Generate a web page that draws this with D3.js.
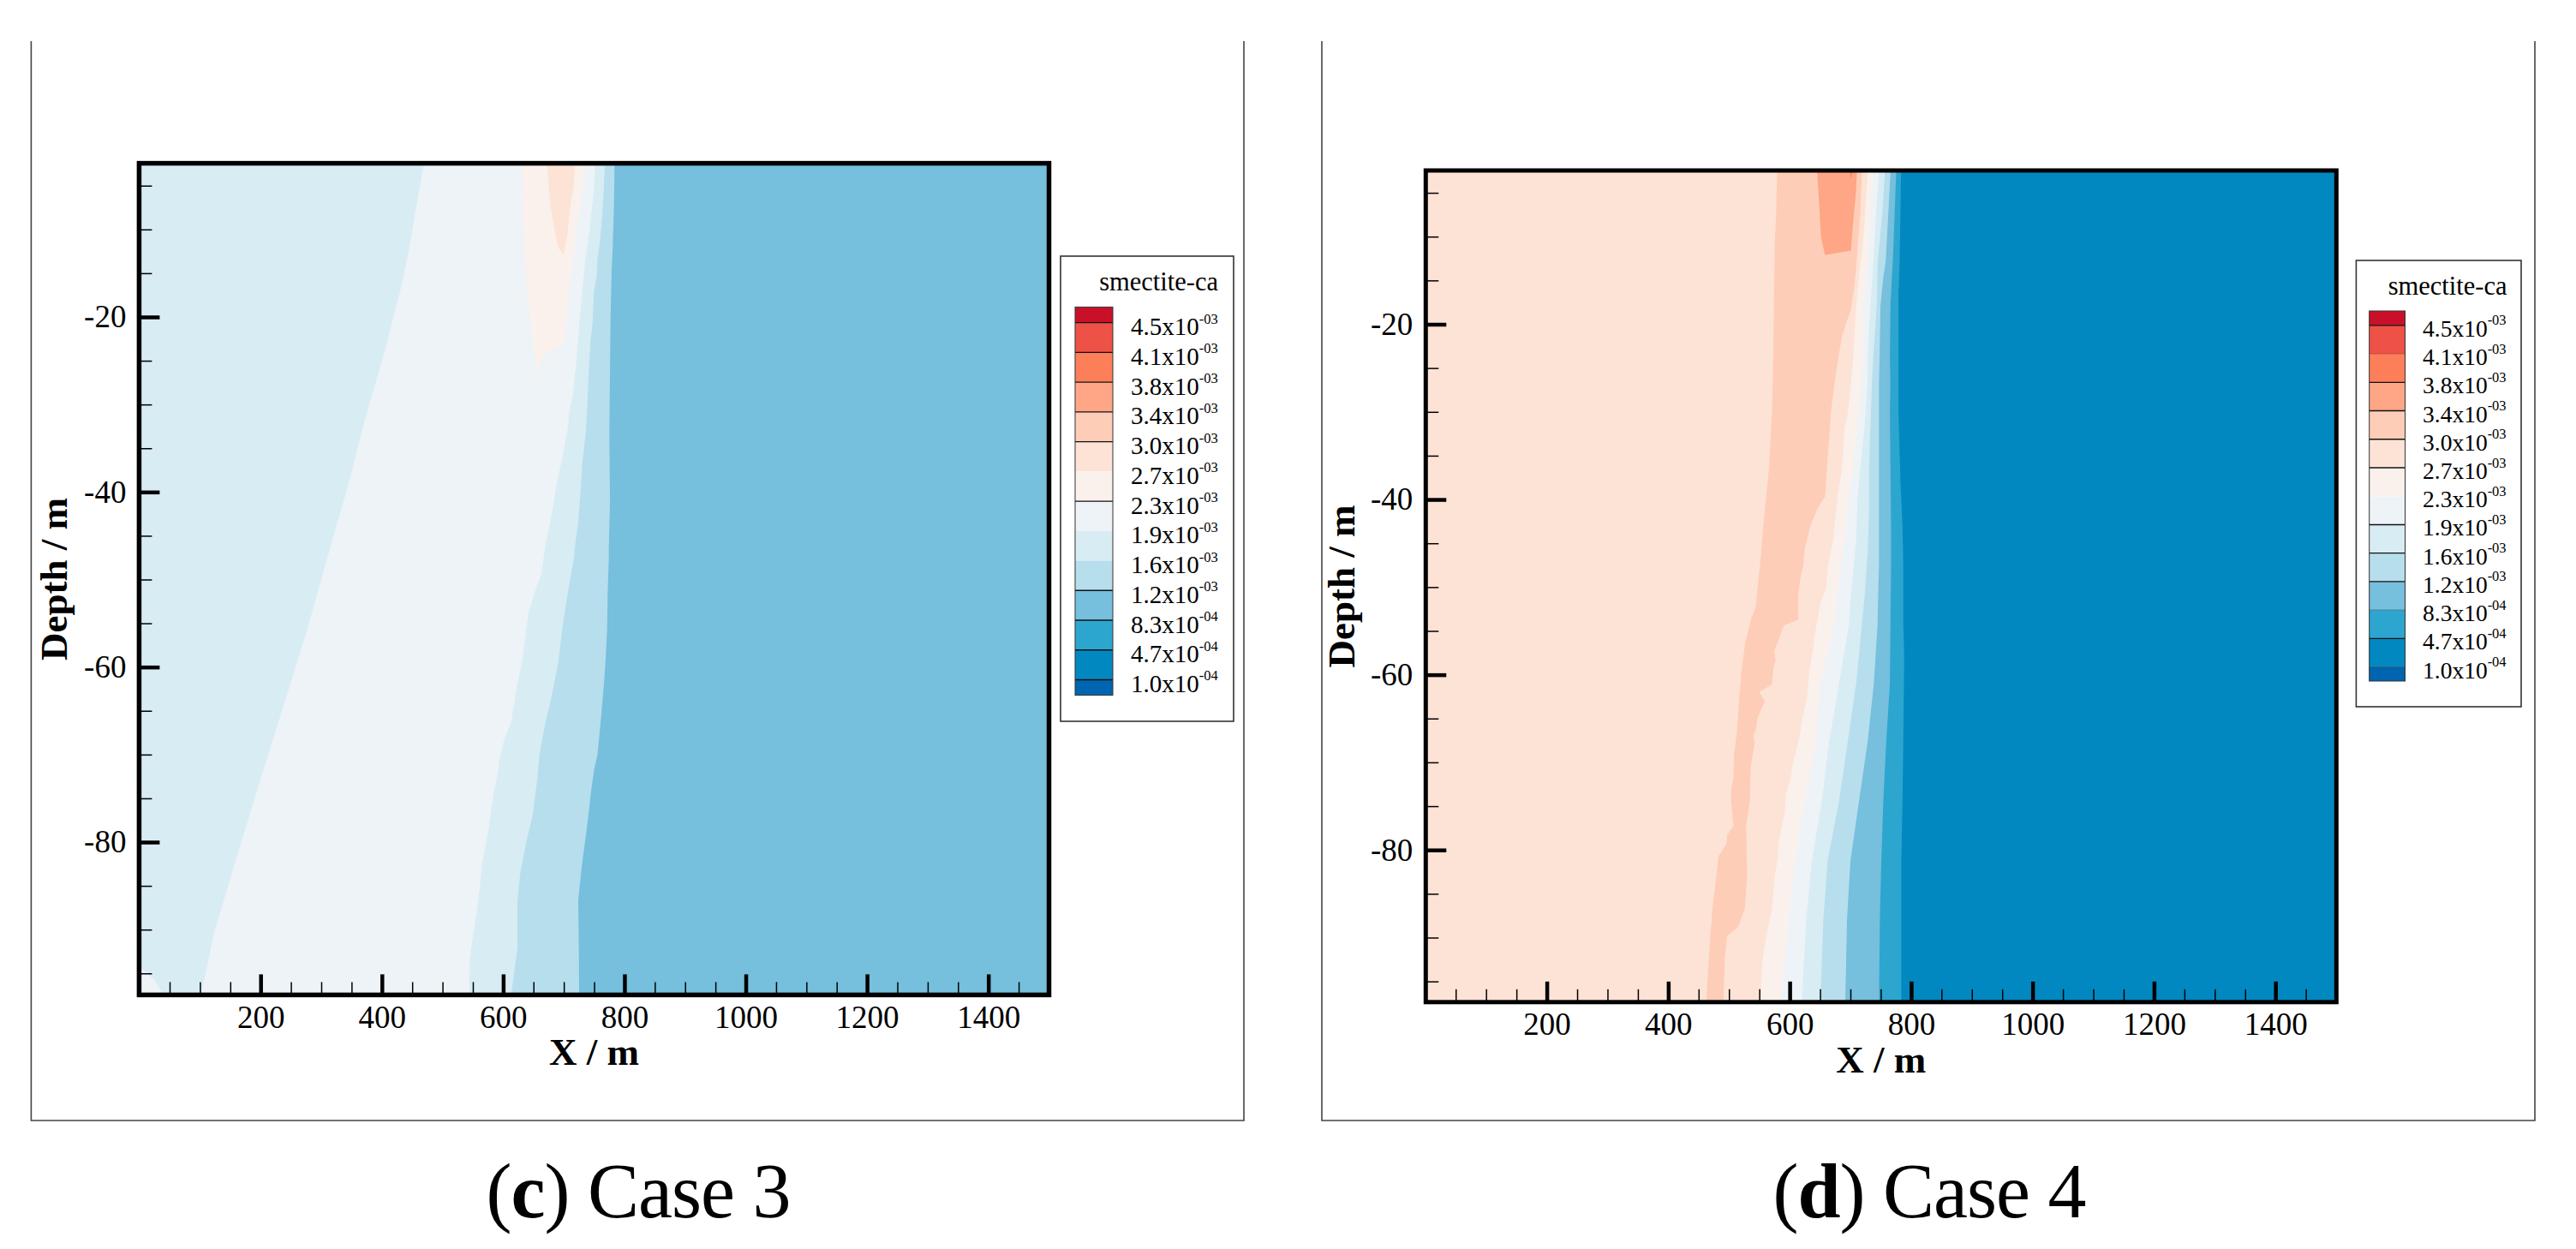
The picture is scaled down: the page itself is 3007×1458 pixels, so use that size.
<!DOCTYPE html>
<html>
<head>
<meta charset="utf-8">
<script src="https://cdnjs.cloudflare.com/ajax/libs/d3/7.8.5/d3.min.js"></script>
<style>
  body { margin: 0; background: #fff; }
  text { font-family: "Liberation Serif", serif; fill: #000; }
</style>
</head>
<body>
<div id="chart"></div>
<script>
// legend levels, top to bottom
var levelMant = ["4.5", "4.1", "3.8", "3.4", "3.0", "2.7", "2.3", "1.9", "1.6", "1.2", "8.3", "4.7", "1.0"];
var levelExp = ["-03", "-03", "-03", "-03", "-03", "-03", "-03", "-03", "-03", "-03", "-04", "-04", "-04"];
var levelColors = ["#ca1029", "#ee5247", "#fd7f59", "#fea685", "#fecdb7", "#fde3d6", "#faf1ec",
  "#edf3f7", "#d8ecf3", "#b7deed", "#76bfdd", "#2ca6cf", "#0288c1", "#0065b0"];
var c3LegendLines = [1, 1, 1, 1, 1, 0, 1, 0, 0, 1, 1, 1, 1];
var c4LegendLines = [1, 0.2, 1, 1, 1, 1, 0, 1, 1, 1, 0.3, 1, 0.3];

var xMajor = [200, 400, 600, 800, 1000, 1200, 1400];
var yMajor = [-20, -40, -60, -80];
var xMinor = d3.range(50, 1500, 50).filter(function (d) { return d % 200 !== 0; });
var yMinor = d3.range(-5, -97, -5).filter(function (d) { return d % 20 !== 0; });

// Case 3 contour edges, [x, depth]
var c3EdgeA = [[469, -2.6], [459, -6.5], [443, -12.9], [432, -16.5], [405, -23.8], [371, -32], [344, -39.3],
  [310, -47.5], [277, -55.7], [236, -64.8], [195, -73.9], [155, -83], [124, -90.2], [102, -97.3]];
var c3EdgeB = [[752, -2.8], [748.8, -6], [742.7, -9.9], [735.6, -13.5], [730.9, -16.8], [725.2, -21], [720.5, -25.3],
  [716.8, -27.6], [714.4, -29.2], [709.7, -30.5], [706.4, -32.8], [697.9, -36], [688.5, -39], [680, -42.6], [669.7, -46.1],
  [662.6, -49.5], [653.2, -51.2], [641.4, -54], [632, -59.1], [622.6, -62.2], [613.2, -66.3], [601.4, -68.4], [593.4, -70.8],
  [592, -71.8], [584, -74.6], [575.5, -78.7], [565.1, -82.5], [559, -86.9], [549.6, -91], [544.9, -93.4], [544, -97.4]];
var c3EdgeC = [[767.6, -2.8], [764.8, -7], [760, -11.2], [755.4, -13.5], [754.4, -15.2], [749.7, -17.1], [747.4, -20.7],
  [744.1, -22.7], [741.2, -26.2], [738.9, -29.8], [736.5, -33.1], [730.9, -36.4], [726.2, -41.2], [723.8, -43.5], [719.1, -45.8],
  [716.8, -47.5], [707.3, -51.2], [697.9, -55.3], [690.9, -59.5], [679.1, -63.6], [669.7, -66.3], [660.3, -69.8], [655.5, -73.2],
  [648.5, -77], [639, -79.7], [628.2, -83.5], [623.5, -86.9], [623.5, -92.1], [613.2, -97.4]];
var c3EdgeD = [[783.6, -2.8], [782.7, -7.3], [780.3, -12.6], [778.9, -14.5], [777, -20.1], [776.1, -26.6], [775.1, -33.1],
  [776.1, -41.3], [774.2, -46.2], [774.2, -47.5], [772.3, -51.6], [771.4, -55.7], [768.6, -59.5], [766.2, -61.9], [762, -65.3],
  [758.2, -68.1], [755.4, -70.1], [749.7, -71.8], [745, -74.2], [739.4, -77.6], [734.7, -80.1], [729.5, -82.8], [723.8, -86.6],
  [724.8, -92.1], [725.2, -97.4]];
var c3LobeOuter = [[632, -2.5], [633, -10.3], [639, -16.8], [648.5, -23], [658, -26.6], [662.6, -25], [672, -24.1], [686, -23.6],
  [700.3, -23.2], [702.6, -21.4], [708.3, -17.4], [715.3, -13.5], [721.5, -9.6], [728.5, -6.4], [736.5, -2.5]];
var c3LobeInner = [[672, -2.5], [678, -7.3], [686, -10.6], [691, -12.1], [700, -12.9], [706.4, -10.3], [709.7, -8], [716.8, -4.7],
  [718.2, -2.5]];
var c3Corner = [[0, -94.4], [6, -94.6], [24.5, -95.7], [40, -97.5], [0, -97.5]];

// Case 4 contour edges, [x, depth]
var c4Edge1 = [[579.2, -2.8], [577.8, -7.1], [575.5, -10.4], [574, -16.9], [573.1, -23.4], [570.8, -29.9], [566, -36.4], [556.6, -43],
  [551, -47.5], [544, -52.2], [535.5, -53.9], [527, -56.3], [521.4, -59], [516.7, -62.7], [512.9, -66.7], [508.2, -69.1], [507.3, -71.8],
  [503.5, -73.1], [503.5, -74.4], [507.3, -77.3], [496.9, -78.3], [496, -79.3], [482.8, -80.7], [477.6, -83.9], [473.4, -86.2],
  [469.6, -89.6], [467.3, -91.9], [462.6, -97.3]];
var c4Edge2 = [[718.9, -2.8], [716.5, -7.1], [711.8, -11.4], [709.5, -13.6], [705.7, -16.2], [700.1, -18.5], [691.6, -20.1], [685, -21.8],
  [678.9, -24.4], [672.8, -27.3], [668.1, -29.9], [664.8, -33.2], [661.5, -36.4], [658.2, -39.7], [646, -41], [634.2, -43], [624.8, -45.6],
  [622.5, -47.5], [617.8, -48.9], [614, -50.9], [614, -53.7], [590.5, -54.4], [582.5, -55.9], [574.5, -57.3], [576.9, -58.3], [573.1, -59.3],
  [570.8, -61.1], [549.6, -62], [559, -63], [547.2, -64.9], [544, -66.4], [540.2, -66.9], [542.5, -67.7], [535.5, -70.7], [534.5, -74.4],
  [528.4, -77.3], [529.8, -83.2], [526.1, -86.7], [515.7, -88.7], [504.9, -89.4], [496.9, -89.8], [493.2, -92.3], [490.8, -97.3]];
var c4Edge3 = [[728.3, -2.8], [724.5, -7.1], [719.8, -11.4], [716.5, -13], [709.5, -17.9], [704.8, -23.7], [701, -26.7], [696.3, -29.9],
  [690.7, -31.9], [686, -36.4], [678.9, -39.7], [671.9, -44.6], [663.4, -47.5], [660.1, -50.2], [650.7, -51.9], [642.7, -54.9], [637.5, -57.6],
  [632.8, -59.3], [628.6, -62.7], [621.1, -65], [615.4, -67.4], [603.7, -70.7], [601.3, -72.1], [594.3, -73.4], [591.9, -75.8], [582.5, -78.8],
  [580.2, -81.2], [575.5, -82.9], [570.8, -86.9], [563.7, -88.9], [555.2, -92.6], [552, -97.3]];
var c4Edge4 = [[737.7, -2.8], [733, -7.1], [728.3, -13], [721.3, -17.9], [721.3, -23.7], [718, -26.7], [711.8, -31.5], [704.8, -36.4],
  [697.7, -39.7], [690.7, -44.6], [685, -47.5], [678.9, -50.9], [674.2, -54.2], [650.7, -61], [643.7, -67.7], [624.8, -74.4], [608.4, -81.2],
  [599, -87.9], [584.9, -97.3]];
var c4Edge5 = [[747.1, -2.8], [742.4, -7.1], [737.7, -13], [733, -17.9], [728.3, -23.7], [728.3, -26.7], [723.6, -31.5], [716.5, -36.4],
  [711.8, -39.7], [709.5, -44.6], [705.7, -47.5], [701, -50.9], [697.7, -54.2], [681.3, -61], [664.8, -67.7], [653.1, -74.4], [636.6, -81.2],
  [627.2, -87.9], [620.1, -97.3]];
var c4Edge6 = [[756.5, -2.8], [752.8, -7.1], [744.8, -13], [743.4, -17.9], [737.7, -23.7], [735.4, -26.7], [733, -31.5], [730.7, -36.4],
  [730.7, -41.3], [728.3, -46.2], [726.9, -47.5], [723.6, -50.9], [718.9, -54.2], [709.5, -61], [695.4, -67.7], [681.3, -74.4], [662.5, -81.2],
  [655.4, -87.9], [650.7, -97.3]];
var c4Edge7 = [[765.9, -2.8], [762.6, -7.1], [757.9, -13], [754.2, -14.6], [749.5, -17.9], [748.1, -23.7], [747.1, -26.7], [747.1, -43],
  [747.1, -47.5], [745.7, -50.9], [744.8, -54.2], [738.6, -61], [728.3, -67.7], [714.2, -74.4], [700.1, -81.2], [694.4, -87.9], [691.6, -97.3]];
var c4Edge8 = [[775.3, -2.8], [773, -7.1], [769.7, -13], [768.3, -14.6], [765.9, -17.9], [765, -23.7], [765.9, -26.7], [765, -29.9],
  [765.9, -36.4], [766.9, -43], [766.9, -47.5], [765.9, -54.2], [765, -61], [758.9, -67.7], [754.2, -74.4], [750.9, -81.2], [748.5, -87.9], [747.1, -97.3]];
var c4Edge9 = [[783.3, -2.8], [782.4, -7.1], [781, -13], [779.1, -16.8], [779.1, -29.9], [782.4, -38], [785.7, -43], [787.1, -47.5],
  [787.1, -54.2], [788.5, -58], [787.1, -67.7], [785.7, -74.4], [783.8, -81.2], [783.8, -97.3]];
var c4LobeOrange = [[645.1, -2.5], [648.4, -6.1], [651.6, -10], [654.5, -11], [658.2, -12.1], [701, -11.6], [702.4, -10], [705.7, -7.4],
  [708.5, -5.5], [710.9, -2.5]];
var c4Speck = [[699, -2.5], [703, -2.5], [701, -3.4]];

var panels = [
  {
    id: "c3", letter: "c", caseText: " Case 3", captionX: 745,
    frame: { left: 36.4, right: 1452, top: 48, bottom: 1308 },
    plot: { left: 162.4, right: 1224.5, top: 190.6, bottom: 1161.4 }, axisWidth: 5.5,
    xAt: [304.2, 1153.7], yAt: [370, 983],
    xTitleY: 1243, yTitleX: 78.4,
    base: "#d8ecf3",
    edges: [[c3EdgeA, "#edf3f7"], [c3EdgeB, "#d8ecf3"], [c3EdgeC, "#b7deed"], [c3EdgeD, "#76bfdd"]],
    patches: [[c3LobeOuter, "#faf1ec"], [c3LobeInner, "#fde3d6"], [c3Corner, "#edf3f7"]],
    legend: {
      box: [1238, 299, 1440, 842], swatch: [1255, 1299], swatchTop: 358.4, swatchBottom: 811.6,
      first: 376.6, step: 34.74, labelX: 1320, titleX: 1422, titleY: 339, fontSize: 29, baseOff: 14.5, lines: c3LegendLines
    }
  },
  {
    id: "c4", letter: "d", caseText: " Case 4", captionX: 2252,
    frame: { left: 1543, right: 2959, top: 48, bottom: 1308 },
    plot: { left: 1664.3, right: 2727.3, top: 199, bottom: 1169.8 }, axisWidth: 5,
    xAt: [1805.6, 2656.2], yAt: [378.5, 992.2],
    xTitleY: 1252, yTitleX: 1580.7,
    base: "#fde3d6",
    edges: [[c4Edge1, "#fecdb7"], [c4Edge2, "#fde3d6"], [c4Edge3, "#faf1ec"], [c4Edge4, "#edf3f7"], [c4Edge5, "#d8ecf3"],
      [c4Edge6, "#b7deed"], [c4Edge7, "#76bfdd"], [c4Edge8, "#2ca6cf"], [c4Edge9, "#0288c1"]],
    patches: [[c4LobeOrange, "#fea685"], [c4Speck, "#fd7f59"]],
    legend: {
      box: [2750.4, 304, 2943, 825], swatch: [2765.7, 2807.5], swatchTop: 363, swatchBottom: 795,
      first: 379.8, step: 33.24, labelX: 2828, titleX: 2926.5, titleY: 343.5, fontSize: 27.5, baseOff: 13, lines: c4LegendLines
    }
  }
];

var svg = d3.select("#chart").append("svg")
  .attr("width", 3007)
  .attr("height", 1458)
  .style("display", "block");

panels.forEach(drawPanel);

function drawPanel(p) {
  var g = svg.append("g").attr("id", p.id);

  // figure frame, the top side was cropped away in the source
  g.append("path")
    .attr("d", "M" + p.frame.left + "," + p.frame.top + "V" + p.frame.bottom + "H" + p.frame.right + "V" + p.frame.top)
    .attr("fill", "none")
    .attr("stroke", "#444")
    .attr("stroke-width", 1.6);

  var x = d3.scaleLinear().domain([200, 1400]).range(p.xAt);
  var y = d3.scaleLinear().domain([-20, -80]).range(p.yAt);
  var line = d3.line()
    .x(function (d) { return x(d[0]); })
    .y(function (d) { return y(d[1]); });

  g.append("clipPath").attr("id", "clip-" + p.id).append("rect")
    .attr("x", p.plot.left).attr("y", p.plot.top)
    .attr("width", p.plot.right - p.plot.left)
    .attr("height", p.plot.bottom - p.plot.top);

  var field = g.append("g").attr("clip-path", "url(#clip-" + p.id + ")");
  field.append("rect")
    .attr("x", p.plot.left).attr("y", p.plot.top)
    .attr("width", p.plot.right - p.plot.left)
    .attr("height", p.plot.bottom - p.plot.top)
    .attr("fill", p.base);

  // every contour edge fills everything to its right
  p.edges.forEach(function (e) {
    var pts = e[0];
    var closed = [[pts[0][0], -2], ...pts, [pts[pts.length - 1][0], -98], [1510, -98], [1510, -2]];
    field.append("path")
      .attr("d", line(closed) + "Z")
      .attr("fill", e[1]);
  });
  p.patches.forEach(function (e) {
    field.append("path")
      .attr("d", line(e[0]) + "Z")
      .attr("fill", e[1]);
  });

  var fmt = function (d) { return String(d); };

  // minor ticks
  var xMinorAxis = g.append("g")
    .attr("transform", "translate(0," + p.plot.bottom + ")")
    .call(d3.axisBottom(x).tickValues(xMinor).tickSize(-15).tickFormat(""));
  var yMinorAxis = g.append("g")
    .attr("transform", "translate(" + p.plot.left + ",0)")
    .call(d3.axisLeft(y).tickValues(yMinor).tickSize(-15).tickFormat(""));
  [xMinorAxis, yMinorAxis].forEach(function (a) {
    a.select(".domain").remove();
    a.selectAll("line").attr("stroke", "#000").attr("stroke-width", 1.5);
  });

  // major ticks with labels
  var xAxis = g.append("g")
    .attr("transform", "translate(0," + p.plot.bottom + ")")
    .call(d3.axisBottom(x).tickValues(xMajor).tickSize(-24).tickPadding(12).tickFormat(fmt));
  var yAxis = g.append("g")
    .attr("transform", "translate(" + p.plot.left + ",0)")
    .call(d3.axisLeft(y).tickValues(yMajor).tickSize(-24).tickPadding(15).tickFormat(fmt));
  [xAxis, yAxis].forEach(function (a) {
    a.select(".domain").remove();
    a.selectAll("line").attr("stroke", "#000").attr("stroke-width", 4.5);
    a.selectAll("text")
      .style("font-family", "'Liberation Serif', serif")
      .attr("font-size", 37)
      .attr("fill", "#000");
  });

  g.append("rect")
    .attr("x", p.plot.left).attr("y", p.plot.top)
    .attr("width", p.plot.right - p.plot.left)
    .attr("height", p.plot.bottom - p.plot.top)
    .attr("fill", "none")
    .attr("stroke", "#000")
    .attr("stroke-width", p.axisWidth);

  g.append("text")
    .attr("x", (p.plot.left + p.plot.right) / 2)
    .attr("y", p.xTitleY)
    .attr("text-anchor", "middle")
    .attr("font-size", 45)
    .attr("font-weight", "bold")
    .text("X / m");

  g.append("text")
    .attr("transform", "translate(" + p.yTitleX + "," + (p.plot.top + p.plot.bottom) / 2 + ") rotate(-90)")
    .attr("text-anchor", "middle")
    .attr("font-size", 45)
    .attr("font-weight", "bold")
    .text("Depth / m");

  drawLegend(g, p.legend);

  var cap = g.append("text")
    .attr("x", p.captionX)
    .attr("y", 1421)
    .attr("text-anchor", "middle")
    .attr("font-size", 90)
    .attr("letter-spacing", -1);
  cap.append("tspan").text("(");
  cap.append("tspan").attr("font-weight", "bold").text(p.letter);
  cap.append("tspan").text(")");
  cap.append("tspan").text(p.caseText);
}

function drawLegend(g, lg) {
  var leg = g.append("g");
  leg.append("rect")
    .attr("x", lg.box[0]).attr("y", lg.box[1])
    .attr("width", lg.box[2] - lg.box[0])
    .attr("height", lg.box[3] - lg.box[1])
    .attr("fill", "#fff")
    .attr("stroke", "#333")
    .attr("stroke-width", 1.6);

  leg.append("text")
    .attr("x", lg.titleX)
    .attr("y", lg.titleY)
    .attr("text-anchor", "end")
    .attr("font-size", 30.5)
    .text("smectite-ca");

  // level position from its index, bands end at the swatch limits
  var level = d3.scaleLinear().domain([0, levelMant.length - 1]).range([lg.first, lg.first + lg.step * (levelMant.length - 1)]);
  var sw = lg.swatch[1] - lg.swatch[0];

  leg.selectAll("rect.band")
    .data(levelColors)
    .enter()
    .append("rect")
    .attr("class", "band")
    .attr("x", lg.swatch[0])
    .attr("width", sw)
    .attr("y", function (d, i) { return i === 0 ? lg.swatchTop : level(i - 1); })
    .attr("height", function (d, i) {
      var top = i === 0 ? lg.swatchTop : level(i - 1);
      var bot = i === levelColors.length - 1 ? lg.swatchBottom : level(i);
      return bot - top;
    })
    .attr("fill", function (d) { return d; });

  leg.selectAll("line.lev")
    .data(lg.lines)
    .enter()
    .append("line")
    .attr("class", "lev")
    .attr("x1", lg.swatch[0])
    .attr("x2", lg.swatch[1])
    .attr("y1", function (d, i) { return level(i); })
    .attr("y2", function (d, i) { return level(i); })
    .attr("stroke", "#111")
    .attr("stroke-width", 1.3)
    .attr("stroke-opacity", function (d) { return d; });

  leg.append("rect")
    .attr("x", lg.swatch[0]).attr("y", lg.swatchTop)
    .attr("width", sw)
    .attr("height", lg.swatchBottom - lg.swatchTop)
    .attr("fill", "none")
    .attr("stroke", "#333")
    .attr("stroke-width", 1);

  var labels = leg.selectAll("text.lab")
    .data(levelMant)
    .enter()
    .append("text")
    .attr("class", "lab")
    .attr("x", lg.labelX)
    .attr("y", function (d, i) { return level(i) + lg.baseOff; })
    .attr("font-size", lg.fontSize);
  labels.append("tspan").text(function (d) { return d + "x10"; });
  labels.append("tspan")
    .attr("dy", -13.5)
    .attr("font-size", 16.5)
    .text(function (d, i) { return levelExp[i]; });
}
</script>
</body>
</html>
